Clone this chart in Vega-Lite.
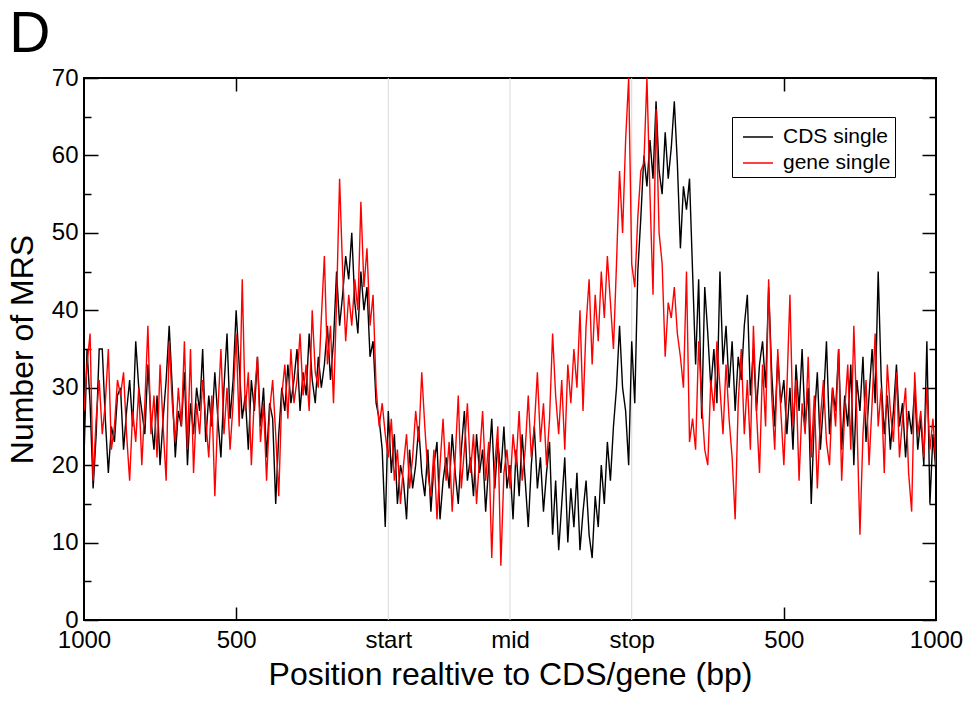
{
"$schema": "https://vega.github.io/schema/vega-lite/v6.json",
"width": 852, "height": 542,
"autosize": {"type": "none"},
"padding": {"left": 84, "top": 78, "right": 36, "bottom": 81},
"background": "white",
"config": {"view": {"stroke": "black", "strokeWidth": 2}},
"title": {"text": "D", "anchor": "start", "frame": "bounds", "fontSize": 57, "font": "Liberation Sans", "fontWeight": "normal", "color": "black", "offset": 10, "dy": 8, "dx": 3},
"data": {"values": [
{"pos":-1000,"c":21,"g":27},{"pos":-990,"c":35,"g":33},{"pos":-980,"c":28,"g":37},{"pos":-970,"c":17,"g":18},{"pos":-960,"c":24,"g":26},
{"pos":-950,"c":35,"g":31},{"pos":-940,"c":35,"g":24},{"pos":-930,"c":26,"g":28},{"pos":-920,"c":19,"g":35},{"pos":-910,"c":25,"g":22},
{"pos":-900,"c":23,"g":25},{"pos":-890,"c":29,"g":31},{"pos":-880,"c":30,"g":29},{"pos":-870,"c":22,"g":32},{"pos":-860,"c":27,"g":24},
{"pos":-850,"c":31,"g":18},{"pos":-840,"c":25,"g":27},{"pos":-830,"c":36,"g":23},{"pos":-820,"c":30,"g":30},{"pos":-810,"c":27,"g":20},
{"pos":-800,"c":24,"g":28},{"pos":-790,"c":33,"g":38},{"pos":-780,"c":26,"g":24},{"pos":-770,"c":22,"g":29},{"pos":-760,"c":29,"g":21},
{"pos":-750,"c":20,"g":33},{"pos":-740,"c":26,"g":25},{"pos":-730,"c":31,"g":18},{"pos":-720,"c":38,"g":36},{"pos":-710,"c":30,"g":28},
{"pos":-700,"c":21,"g":23},{"pos":-690,"c":27,"g":30},{"pos":-680,"c":25,"g":25},{"pos":-670,"c":32,"g":36},{"pos":-660,"c":20,"g":22},
{"pos":-650,"c":28,"g":35},{"pos":-640,"c":24,"g":19},{"pos":-630,"c":30,"g":28},{"pos":-620,"c":27,"g":24},{"pos":-610,"c":35,"g":31},
{"pos":-600,"c":23,"g":26},{"pos":-590,"c":29,"g":21},{"pos":-580,"c":25,"g":29},{"pos":-570,"c":32,"g":16},{"pos":-560,"c":26,"g":27},
{"pos":-550,"c":21,"g":35},{"pos":-540,"c":30,"g":24},{"pos":-530,"c":37,"g":30},{"pos":-520,"c":26,"g":22},{"pos":-510,"c":31,"g":28},
{"pos":-500,"c":40,"g":37},{"pos":-490,"c":33,"g":25},{"pos":-480,"c":26,"g":44},{"pos":-470,"c":29,"g":27},{"pos":-460,"c":22,"g":32},
{"pos":-450,"c":31,"g":20},{"pos":-440,"c":27,"g":29},{"pos":-430,"c":34,"g":34},{"pos":-420,"c":25,"g":23},{"pos":-410,"c":30,"g":28},
{"pos":-400,"c":21,"g":18},{"pos":-390,"c":28,"g":27},{"pos":-380,"c":26,"g":31},{"pos":-370,"c":15,"g":24},{"pos":-360,"c":24,"g":16},
{"pos":-350,"c":30,"g":29},{"pos":-340,"c":27,"g":33},{"pos":-330,"c":33,"g":26},{"pos":-320,"c":28,"g":35},{"pos":-310,"c":31,"g":28},
{"pos":-300,"c":35,"g":31},{"pos":-290,"c":27,"g":37},{"pos":-280,"c":32,"g":29},{"pos":-270,"c":29,"g":33},{"pos":-260,"c":37,"g":27},
{"pos":-250,"c":31,"g":40},{"pos":-240,"c":28,"g":32},{"pos":-230,"c":34,"g":30},{"pos":-220,"c":30,"g":39},{"pos":-210,"c":33,"g":47},
{"pos":-200,"c":38,"g":33},{"pos":-190,"c":31,"g":38},{"pos":-180,"c":36,"g":28},{"pos":-170,"c":45,"g":41},{"pos":-160,"c":38,"g":57},
{"pos":-150,"c":42,"g":45},{"pos":-140,"c":47,"g":36},{"pos":-130,"c":44,"g":42},{"pos":-120,"c":50,"g":38},{"pos":-110,"c":41,"g":44},
{"pos":-100,"c":37,"g":40},{"pos":-90,"c":45,"g":54},{"pos":-80,"c":40,"g":43},{"pos":-70,"c":43,"g":48},{"pos":-60,"c":34,"g":38},
{"pos":-50,"c":36,"g":42},{"pos":-40,"c":28,"g":30},{"pos":-30,"c":26,"g":25},{"pos":-20,"c":22,"g":28},{"pos":-10,"c":12,"g":24},
{"pos":0,"c":27,"g":21},{"pos":10,"c":19,"g":26},{"pos":20,"c":24,"g":18},{"pos":30,"c":15,"g":22},{"pos":40,"c":20,"g":15},
{"pos":50,"c":18,"g":20},{"pos":60,"c":13,"g":24},{"pos":70,"c":22,"g":17},{"pos":80,"c":17,"g":21},{"pos":90,"c":20,"g":27},
{"pos":100,"c":25,"g":23},{"pos":110,"c":19,"g":32},{"pos":120,"c":16,"g":25},{"pos":130,"c":22,"g":19},{"pos":140,"c":14,"g":16},
{"pos":150,"c":20,"g":22},{"pos":160,"c":23,"g":13},{"pos":170,"c":13,"g":20},{"pos":180,"c":18,"g":26},{"pos":190,"c":21,"g":18},
{"pos":200,"c":17,"g":23},{"pos":210,"c":24,"g":14},{"pos":220,"c":19,"g":21},{"pos":230,"c":15,"g":29},{"pos":240,"c":22,"g":17},
{"pos":250,"c":27,"g":22},{"pos":260,"c":18,"g":28},{"pos":270,"c":21,"g":19},{"pos":280,"c":16,"g":24},{"pos":290,"c":24,"g":15},
{"pos":300,"c":19,"g":21},{"pos":310,"c":22,"g":27},{"pos":320,"c":14,"g":18},{"pos":330,"c":20,"g":23},{"pos":340,"c":26,"g":8},
{"pos":350,"c":17,"g":20},{"pos":360,"c":23,"g":25},{"pos":370,"c":19,"g":7},{"pos":380,"c":25,"g":19},{"pos":390,"c":17,"g":22},
{"pos":400,"c":20,"g":17},{"pos":410,"c":13,"g":24},{"pos":420,"c":22,"g":20},{"pos":430,"c":16,"g":27},{"pos":440,"c":24,"g":18},
{"pos":450,"c":18,"g":22},{"pos":460,"c":12,"g":29},{"pos":470,"c":20,"g":21},{"pos":480,"c":25,"g":25},{"pos":490,"c":17,"g":32},
{"pos":500,"c":21,"g":23},{"pos":510,"c":14,"g":28},{"pos":520,"c":19,"g":20},{"pos":530,"c":23,"g":26},{"pos":540,"c":11,"g":37},
{"pos":550,"c":18,"g":29},{"pos":560,"c":9,"g":24},{"pos":570,"c":15,"g":31},{"pos":580,"c":21,"g":22},{"pos":590,"c":10,"g":33},
{"pos":600,"c":17,"g":28},{"pos":610,"c":12,"g":35},{"pos":620,"c":19,"g":30},{"pos":630,"c":9,"g":40},{"pos":640,"c":14,"g":27},
{"pos":650,"c":18,"g":38},{"pos":660,"c":11,"g":44},{"pos":670,"c":8,"g":33},{"pos":680,"c":16,"g":42},{"pos":690,"c":12,"g":36},
{"pos":700,"c":20,"g":45},{"pos":710,"c":15,"g":39},{"pos":720,"c":23,"g":47},{"pos":730,"c":18,"g":41},{"pos":740,"c":25,"g":35},
{"pos":750,"c":30,"g":46},{"pos":760,"c":38,"g":58},{"pos":770,"c":30,"g":50},{"pos":780,"c":27,"g":62},{"pos":790,"c":20,"g":70},
{"pos":800,"c":36,"g":46},{"pos":810,"c":28,"g":43},{"pos":820,"c":45,"g":52},{"pos":830,"c":52,"g":58},{"pos":840,"c":60,"g":59},
{"pos":850,"c":56,"g":70},{"pos":860,"c":62,"g":55},{"pos":870,"c":57,"g":42},{"pos":880,"c":67,"g":66},{"pos":890,"c":58,"g":50},
{"pos":900,"c":55,"g":46},{"pos":910,"c":63,"g":34},{"pos":920,"c":57,"g":41},{"pos":930,"c":61,"g":39},{"pos":940,"c":67,"g":43},
{"pos":950,"c":59,"g":37},{"pos":960,"c":48,"g":34},{"pos":970,"c":56,"g":30},{"pos":980,"c":53,"g":45},{"pos":990,"c":57,"g":23},
{"pos":1000,"c":45,"g":26},{"pos":1010,"c":33,"g":22},{"pos":1020,"c":44,"g":36},{"pos":1030,"c":26,"g":28},{"pos":1040,"c":43,"g":22},
{"pos":1050,"c":37,"g":20},{"pos":1060,"c":30,"g":31},{"pos":1070,"c":35,"g":27},{"pos":1080,"c":28,"g":36},{"pos":1090,"c":45,"g":30},
{"pos":1100,"c":33,"g":24},{"pos":1110,"c":38,"g":33},{"pos":1120,"c":30,"g":26},{"pos":1130,"c":36,"g":21},{"pos":1140,"c":27,"g":13},
{"pos":1150,"c":34,"g":28},{"pos":1160,"c":31,"g":35},{"pos":1170,"c":38,"g":24},{"pos":1180,"c":42,"g":31},{"pos":1190,"c":29,"g":22},
{"pos":1200,"c":35,"g":38},{"pos":1210,"c":27,"g":27},{"pos":1220,"c":33,"g":19},{"pos":1230,"c":36,"g":33},{"pos":1240,"c":30,"g":25},
{"pos":1250,"c":43,"g":44},{"pos":1260,"c":32,"g":29},{"pos":1270,"c":25,"g":22},{"pos":1280,"c":34,"g":35},{"pos":1290,"c":28,"g":27},
{"pos":1300,"c":31,"g":20},{"pos":1310,"c":24,"g":30},{"pos":1320,"c":30,"g":42},{"pos":1330,"c":22,"g":25},{"pos":1340,"c":33,"g":31},
{"pos":1350,"c":27,"g":18},{"pos":1360,"c":35,"g":28},{"pos":1370,"c":25,"g":24},{"pos":1380,"c":30,"g":34},{"pos":1390,"c":15,"g":21},
{"pos":1400,"c":26,"g":29},{"pos":1410,"c":32,"g":17},{"pos":1420,"c":22,"g":26},{"pos":1430,"c":28,"g":31},{"pos":1440,"c":36,"g":23},
{"pos":1450,"c":24,"g":20},{"pos":1460,"c":30,"g":30},{"pos":1470,"c":27,"g":25},{"pos":1480,"c":35,"g":35},{"pos":1490,"c":22,"g":18},
{"pos":1500,"c":29,"g":27},{"pos":1510,"c":25,"g":33},{"pos":1520,"c":33,"g":22},{"pos":1530,"c":20,"g":38},{"pos":1540,"c":31,"g":26},
{"pos":1550,"c":27,"g":11},{"pos":1560,"c":34,"g":24},{"pos":1570,"c":23,"g":31},{"pos":1580,"c":29,"g":20},{"pos":1590,"c":35,"g":28},
{"pos":1600,"c":28,"g":37},{"pos":1610,"c":45,"g":25},{"pos":1620,"c":31,"g":30},{"pos":1630,"c":24,"g":19},{"pos":1640,"c":29,"g":33},
{"pos":1650,"c":22,"g":27},{"pos":1660,"c":27,"g":23},{"pos":1670,"c":33,"g":32},{"pos":1680,"c":25,"g":21},{"pos":1690,"c":28,"g":26},
{"pos":1700,"c":21,"g":30},{"pos":1710,"c":27,"g":19},{"pos":1720,"c":24,"g":14},{"pos":1730,"c":30,"g":32},{"pos":1740,"c":22,"g":24},
{"pos":1750,"c":26,"g":27},{"pos":1760,"c":20,"g":21},{"pos":1770,"c":36,"g":30},{"pos":1780,"c":15,"g":22},{"pos":1790,"c":24,"g":26},
{"pos":1800,"c":19,"g":20}
]},
"resolve": {"axis": {"x": "independent", "y": "independent"}},
"layer": [
{
 "data": {"values": [{"v": 0}, {"v": 400}, {"v": 800}]},
 "mark": {"type": "rule", "color": "#d9d9d9", "strokeWidth": 1},
 "encoding": {"x": {"field": "v", "type": "quantitative", "scale": {"domain": [-1000, 1800], "nice": false, "zero": false}, "axis": null}}
},
{
 "transform": [{"fold": ["c", "g"], "as": ["series", "count"]}],
 "mark": {"type": "line", "strokeWidth": 1.4, "clip": true},
 "encoding": {
  "x": {"field": "pos", "type": "quantitative", "scale": {"domain": [-1000, 1800], "nice": false, "zero": false},
   "axis": {"orient": "bottom", "values": [-1000, -500, 0, 400, 800, 1300, 1800],
    "labelExpr": "datum.value == 0 ? 'start' : datum.value == 400 ? 'mid' : datum.value == 800 ? 'stop' : datum.value < 0 ? format(-datum.value, 'd') : format(datum.value - 800, 'd')",
    "ticks": false, "domain": false, "grid": false, "labelFlush": false, "labelOverlap": false,
    "labelFont": "Liberation Sans", "labelFontSize": 24, "labelColor": "black", "labelPadding": 8,
    "title": "Position realtive to CDS/gene (bp)", "titleFont": "Liberation Sans", "titleFontSize": 32, "titleFontWeight": "normal", "titleColor": "black", "titlePadding": 7}},
  "y": {"field": "count", "type": "quantitative", "scale": {"domain": [0, 70], "nice": false},
   "axis": {"orient": "left", "values": [0, 10, 20, 30, 40, 50, 60, 70], "ticks": false, "domain": false, "grid": false, "labelOverlap": false, "labelFlush": false,
    "labelFont": "Liberation Sans", "labelFontSize": 24, "labelColor": "black", "labelPadding": 6,
    "title": "Number of MRS", "titleFont": "Liberation Sans", "titleFontSize": 32, "titleFontWeight": "normal", "titleColor": "black", "titlePadding": 12}},
  "color": {"field": "series", "type": "nominal", "scale": {"domain": ["c", "g"], "range": ["#000000", "#ff0000"]},
   "legend": {"orient": "none", "legendX": 648, "legendY": 39, "title": null, "labelExpr": "datum.label == 'c' ? 'CDS single' : 'gene single'",
    "symbolType": "stroke", "symbolSize": 900, "symbolStrokeWidth": 1.5, "symbolOffset": 6, "labelFont": "Liberation Sans", "labelFontSize": 21, "labelColor": "black",
    "labelOffset": 9, "strokeColor": "black", "fillColor": "white", "padding": 4, "rowPadding": -2}}
 }
},
{
 "mark": {"type": "line", "strokeOpacity": 0},
 "encoding": {
  "x": {"field": "pos", "type": "quantitative", "scale": {"domain": [-1000, 1800], "nice": false, "zero": false},
   "axis": {"orient": "bottom", "values": [-500, 1300], "labels": false, "domain": false, "grid": false, "ticks": true, "tickSize": 13, "offset": -13, "tickColor": "black", "tickWidth": 1.5, "title": null}},
  "y": {"field": "c", "type": "quantitative", "scale": {"domain": [0, 70], "nice": false},
   "axis": {"orient": "left", "values": [0, 10, 20, 30, 40, 50, 60, 70], "labels": false, "domain": false, "grid": false, "ticks": true, "tickSize": 14, "offset": -14, "tickColor": "black", "tickWidth": 1.5, "title": null}}
 }
},
{
 "mark": {"type": "line", "strokeOpacity": 0},
 "encoding": {
  "x": {"field": "pos", "type": "quantitative", "scale": {"domain": [-1000, 1800], "nice": false, "zero": false},
   "axis": {"orient": "top", "values": [-500, 1300], "labels": false, "domain": false, "grid": false, "ticks": true, "tickSize": 13, "offset": -13, "tickColor": "black", "tickWidth": 1.5, "title": null}},
  "y": {"field": "c", "type": "quantitative", "scale": {"domain": [0, 70], "nice": false},
   "axis": {"orient": "right", "values": [0, 10, 20, 30, 40, 50, 60, 70], "labels": false, "domain": false, "grid": false, "ticks": true, "tickSize": 14, "offset": -14, "tickColor": "black", "tickWidth": 1.5, "title": null}}
 }
},
{
 "mark": {"type": "line", "strokeOpacity": 0},
 "encoding": {
  "y": {"field": "c", "type": "quantitative", "scale": {"domain": [0, 70], "nice": false},
   "axis": {"orient": "left", "values": [5, 15, 25, 35, 45, 55, 65], "labels": false, "domain": false, "grid": false, "ticks": true, "tickSize": 7, "offset": -7, "tickColor": "black", "tickWidth": 1.5, "title": null}}
 }
},
{
 "mark": {"type": "line", "strokeOpacity": 0},
 "encoding": {
  "y": {"field": "c", "type": "quantitative", "scale": {"domain": [0, 70], "nice": false},
   "axis": {"orient": "right", "values": [5, 15, 25, 35, 45, 55, 65], "labels": false, "domain": false, "grid": false, "ticks": true, "tickSize": 7, "offset": -7, "tickColor": "black", "tickWidth": 1.5, "title": null}}
 }
}
]
}
